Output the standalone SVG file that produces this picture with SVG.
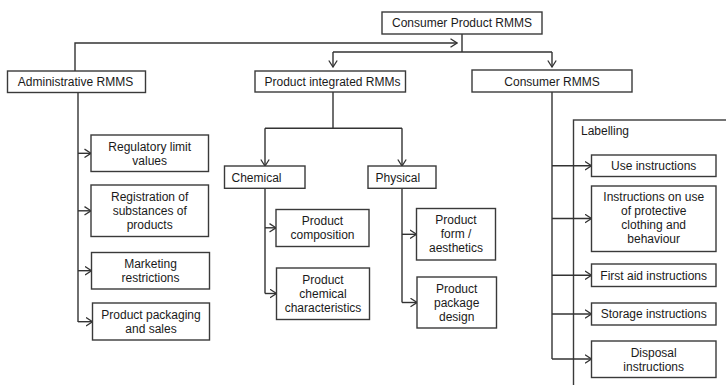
<svg xmlns="http://www.w3.org/2000/svg" width="726" height="385" viewBox="0 0 726 385">
  <defs>
    <marker id="chev" viewBox="0 0 8 10" markerWidth="8" markerHeight="10" refX="7" refY="5" orient="auto" markerUnits="userSpaceOnUse">
      <path d="M0.5,0.8 L7,5 L0.5,9.2" fill="none" stroke="#333" stroke-width="1.3"/>
    </marker>
    <style>
      .box { fill: #fff; stroke: #3a3a3a; stroke-width: 1.4; }
      .lbl { font-family: "Liberation Sans", Arial, sans-serif; font-size: 12px; fill: #1a1a1a; }
      .c { text-anchor: middle; }
      .wire { fill: none; stroke: #333; stroke-width: 1.4; }
      .arr { marker-end: url(#chev); }
    </style>
  </defs>
  <rect width="726" height="385" fill="#fff"/>

  <!-- labelling container (runs off the right and bottom edges) -->
  <g id="labelling">
    <rect class="box" x="573.5" y="120" width="200" height="300"/>
    <text class="lbl" x="581" y="135">Labelling</text>
  </g>

  <g id="connectors">
    <!-- root links -->
    <path class="wire arr" d="M75,71 V43 H457"/>
    <path class="wire" d="M462,34 V52 M333,52 H552"/>
    <path class="wire arr" d="M333,52 V67"/>
    <path class="wire arr" d="M552,52 V67"/>
    <!-- administrative branch -->
    <path class="wire" d="M78,92 V322"/>
    <path class="wire arr" d="M78,153.3 H91"/>
    <path class="wire arr" d="M78,210.8 H91"/>
    <path class="wire arr" d="M78,270.7 H91.5"/>
    <path class="wire arr" d="M78,321.7 H92.5"/>
    <!-- product integrated branch -->
    <path class="wire" d="M333,92 V128.3 M265,128.3 H402"/>
    <path class="wire arr" d="M265,128.3 V166"/>
    <path class="wire arr" d="M402,128.3 V166"/>
    <path class="wire" d="M265,188 V293.5"/>
    <path class="wire arr" d="M265,227.8 H276"/>
    <path class="wire arr" d="M265,293.5 H276.5"/>
    <path class="wire" d="M402,188 V302.5"/>
    <path class="wire arr" d="M402,234.3 H416.5"/>
    <path class="wire arr" d="M402,302.5 H417"/>
    <!-- consumer branch -->
    <path class="wire" d="M552,92 V359"/>
    <path class="wire arr" d="M552,165.8 H591.5"/>
    <path class="wire arr" d="M552,218.5 H591.5"/>
    <path class="wire arr" d="M552,275.3 H591.5"/>
    <path class="wire arr" d="M552,314 H591.5"/>
    <path class="wire arr" d="M552,359 H591.5"/>
  </g>

  <g id="root">
    <rect class="box" x="382" y="12" width="160" height="22"/>
    <text class="lbl c" x="462" y="27.3">Consumer Product RMMS</text>
  </g>

  <g id="administrative">
    <rect class="box" x="7.5" y="71" width="138" height="21.5"/>
    <text class="lbl c" x="75.5" y="86">Administrative RMMS</text>
  </g>
  <g id="regulatory">
    <rect class="box" x="91" y="135" width="117.5" height="36.5"/>
    <text class="lbl c" x="149.7" y="150.6">Regulatory limit</text>
    <text class="lbl c" x="149.7" y="164.6">values</text>
  </g>
  <g id="registration">
    <rect class="box" x="91" y="185" width="117.5" height="51.5"/>
    <text class="lbl c" x="149.7" y="201.1">Registration of</text>
    <text class="lbl c" x="149.7" y="215.1">substances of</text>
    <text class="lbl c" x="149.7" y="229.1">products</text>
  </g>
  <g id="marketing">
    <rect class="box" x="91.5" y="252.5" width="118" height="36.5"/>
    <text class="lbl c" x="150.5" y="268">Marketing</text>
    <text class="lbl c" x="150.5" y="282">restrictions</text>
  </g>
  <g id="packaging-sales">
    <rect class="box" x="92.5" y="303" width="117" height="37"/>
    <text class="lbl c" x="151" y="318.8">Product packaging</text>
    <text class="lbl c" x="151" y="332.8">and sales</text>
  </g>

  <g id="product-integrated">
    <rect class="box" x="255" y="71" width="150.5" height="21"/>
    <text class="lbl c" x="332.5" y="86">Product integrated  RMMs</text>
  </g>
  <g id="chemical">
    <rect class="box" x="224.5" y="166" width="80.5" height="22.3"/>
    <text class="lbl" x="231.5" y="181.5">Chemical</text>
  </g>
  <g id="physical">
    <rect class="box" x="368" y="166" width="68" height="22.3"/>
    <text class="lbl" x="375.5" y="181.5">Physical</text>
  </g>
  <g id="composition">
    <rect class="box" x="276" y="209.5" width="93" height="37"/>
    <text class="lbl c" x="322.5" y="225.1">Product</text>
    <text class="lbl c" x="322.5" y="239.1">composition</text>
  </g>
  <g id="chemical-characteristics">
    <rect class="box" x="276.5" y="268" width="93" height="51.5"/>
    <text class="lbl c" x="323" y="283.8">Product</text>
    <text class="lbl c" x="323" y="297.8">chemical</text>
    <text class="lbl c" x="323" y="311.8">characteristics</text>
  </g>
  <g id="form-aesthetics">
    <rect class="box" x="416.5" y="208.5" width="79" height="51.5"/>
    <text class="lbl c" x="456" y="224.3">Product</text>
    <text class="lbl c" x="456" y="238.3">form /</text>
    <text class="lbl c" x="456" y="252.3">aesthetics</text>
  </g>
  <g id="package-design">
    <rect class="box" x="417" y="277" width="79.5" height="51"/>
    <text class="lbl c" x="456.7" y="292.5">Product</text>
    <text class="lbl c" x="456.7" y="306.5">package</text>
    <text class="lbl c" x="456.7" y="320.5">design</text>
  </g>

  <g id="consumer">
    <rect class="box" x="472" y="70" width="160" height="22"/>
    <text class="lbl c" x="552" y="85.5">Consumer RMMS</text>
  </g>
  <g id="use-instructions">
    <rect class="box" x="591.5" y="155" width="124.5" height="21.5"/>
    <text class="lbl c" x="653.7" y="170">Use instructions</text>
  </g>
  <g id="protective-clothing">
    <rect class="box" x="591.5" y="186" width="124.5" height="65.5"/>
    <text class="lbl c" x="653.7" y="201.3">Instructions on use</text>
    <text class="lbl c" x="653.7" y="215.3">of protective</text>
    <text class="lbl c" x="653.7" y="229.3">clothing and</text>
    <text class="lbl c" x="653.7" y="243.3">behaviour</text>
  </g>
  <g id="first-aid">
    <rect class="box" x="591.5" y="264" width="124.5" height="22.5"/>
    <text class="lbl c" x="653.7" y="279.5">First aid instructions</text>
  </g>
  <g id="storage">
    <rect class="box" x="591.5" y="303" width="124.5" height="22"/>
    <text class="lbl c" x="653.7" y="318.3">Storage instructions</text>
  </g>
  <g id="disposal">
    <rect class="box" x="591.5" y="341" width="124.5" height="36.5"/>
    <text class="lbl c" x="653.7" y="356.6">Disposal</text>
    <text class="lbl c" x="653.7" y="370.6">instructions</text>
  </g>
</svg>
